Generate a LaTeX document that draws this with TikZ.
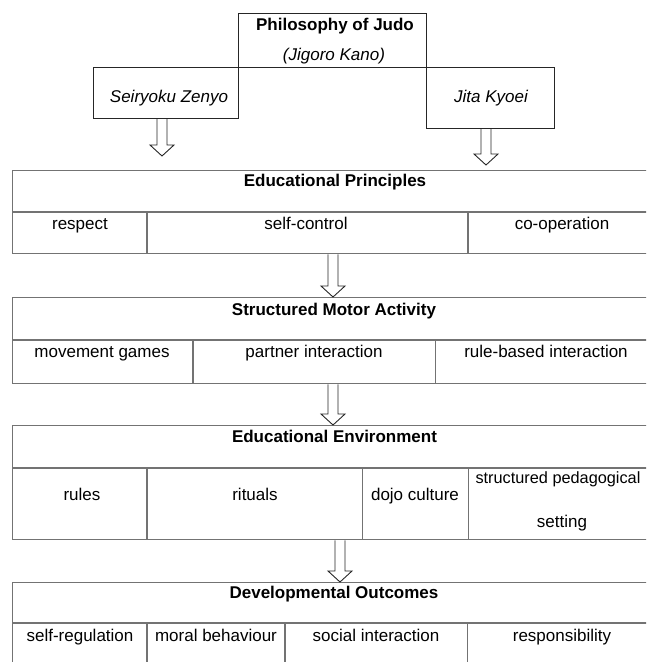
\documentclass[tikz,border=0pt]{standalone}
\usepackage{fontspec}
\setmainfont{Liberation Sans}
\usetikzlibrary{calc}

\tikzset{
  topbox/.style={draw=black!85, line width=0.9pt, inner sep=0pt},
  tablebox/.style={draw=black!55, line width=1.3pt, inner sep=0pt, anchor=north west},
  tableline/.style={draw=black!55, line width=1.3pt},
  celltext/.style={anchor=base, inner sep=0pt, font=\fontsize{17}{20}\selectfont},
  headtext/.style={anchor=base, inner sep=0pt, font=\fontsize{17}{20}\selectfont\bfseries},
  italtext/.style={anchor=base, inner sep=0pt, font=\fontsize{17}{20}\selectfont\itshape},
  arrowline/.style={draw=black!85, line width=0.9pt, line join=miter},
}

% hollow block arrow: #1 start of shaft, #2 tip
\newcommand{\hollowarrow}[2]{%
  \draw[arrowline] ($(#1)+(-5,0)$) -- ($(#2)+(-5,-11)$) -- ($(#2)+(-12,-11)$) -- (#2)
    -- ($(#2)+(12,-11)$) -- ($(#2)+(5,-11)$) -- ($(#1)+(5,0)$);
}

\begin{document}
\begin{tikzpicture}[x=1pt,y=1pt,yscale=-1]
\useasboundingbox (0,0) rectangle (646,662);
\clip (0,0) rectangle (646,662);

%Shape: Rectangle [philosophy and its two principles]
\node[topbox, minimum width=188, minimum height=54] (philo) at (332,40) {};
\node[topbox, minimum width=145, minimum height=51] (seiryoku) at (165.5,92.5) {};
\node[topbox, minimum width=128, minimum height=61] (jita) at (490,97.5) {};

% Text Node
\node[headtext] (philotxt) at (335,30) {Philosophy of Judo};
\node[italtext] (kano) at (334,60) {(Jigoro Kano)};
\node[italtext] (seiryokutxt) at (169,102) {Seiryoku Zenyo};
\node[italtext] (jitatxt) at (491,102) {Jita Kyoei};

%Shape: Table [Educational Principles]
\node[tablebox, minimum width=660, minimum height=83] (edu) at (12,170) {};
\draw[tableline] (12,212) -- (672,212);
\draw[tableline] (147,212) -- (147,253);
\draw[tableline] (468,212) -- (468,253);
\node[headtext] (edutxt) at (335,186) {Educational Principles};
\node[celltext] (respect) at (80,229) {respect};
\node[celltext] (selfcontrol) at (306,229) {self-control};
\node[celltext] (cooperation) at (562,229) {co-operation};

%Shape: Table [Structured Motor Activity]
\node[tablebox, minimum width=660, minimum height=86] (act) at (12,297) {};
\draw[tableline] (12,340) -- (672,340);
\draw[tableline] (193,340) -- (193,383);
\draw[tableline] (435.5,340) -- (435.5,383);
\node[headtext] (acttxt) at (334,315) {Structured Motor Activity};
\node[celltext] (movement) at (102,357) {movement games};
\node[celltext] (partner) at (314,357) {partner interaction};
\node[celltext] (rulebased) at (546,357) {rule-based interaction};

%Shape: Table [Educational Environment]
\node[tablebox, minimum width=660, minimum height=114] (env) at (12,425) {};
\draw[tableline] (12,468) -- (672,468);
\draw[tableline] (147,468) -- (147,539);
\draw[tableline] (362.5,468) -- (362.5,539);
\draw[tableline] (468.5,468) -- (468.5,539);
\node[headtext] (envtxt) at (334.5,442) {Educational Environment};
\node[celltext] (rules) at (82,500) {rules};
\node[celltext] (rituals) at (255,500) {rituals};
\node[celltext] (dojo) at (415,500) {dojo culture};
\node[celltext, font=\fontsize{16.3}{20}\selectfont] (setting1) at (558,483) {structured pedagogical};
\node[celltext] (setting2) at (562,527) {setting};

%Shape: Table [Developmental Outcomes]
\node[tablebox, minimum width=660, minimum height=120] (out) at (12,582) {};
\draw[tableline] (12,623) -- (672,623);
\draw[tableline] (147,623) -- (147,702);
\draw[tableline] (285,623) -- (285,702);
\draw[tableline] (467.6,623) -- (467.6,702);
\node[headtext] (outtxt) at (334,598) {Developmental Outcomes};
\node[celltext] (selfreg) at (80,641) {self-regulation};
\node[celltext] (moral) at (216,641) {moral behaviour};
\node[celltext] (social) at (376,641) {social interaction};
\node[celltext] (respons) at (562,641) {responsibility};

%Block Arrows
\coordinate (a1t) at (162,156);
\coordinate (a2t) at (486,165);
\coordinate (a3x) at (333,0);
\coordinate (a5x) at (340,0);
\hollowarrow{seiryoku.south -| a1t}{a1t}
\hollowarrow{jita.south -| a2t}{a2t}
\hollowarrow{edu.south -| a3x}{act.north -| a3x}
\hollowarrow{act.south -| a3x}{env.north -| a3x}
\hollowarrow{env.south -| a5x}{out.north -| a5x}

\end{tikzpicture}
\end{document}
